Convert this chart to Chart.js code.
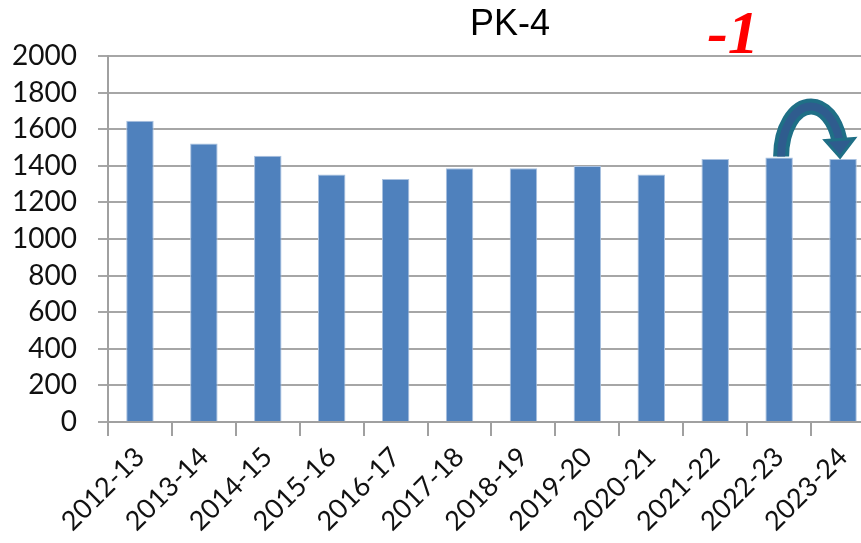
<!DOCTYPE html>
<html>
<head>
<meta charset="utf-8">
<script src="https://cdn.jsdelivr.net/npm/chart.js@4.4.1/dist/chart.umd.min.js"></script>
<style>
  html, body { margin: 0; padding: 0; background: #fff; overflow: hidden; }
  #wrap { width: 875px; height: 543px; position: relative; }
</style>
</head>
<body>
<div id="wrap"><canvas id="pkChart"></canvas></div>
<script>
// ---- data ----
const years = ['2012-13', '2013-14', '2014-15', '2015-16', '2016-17', '2017-18',
               '2018-19', '2019-20', '2020-21', '2021-22', '2022-23', '2023-24'];
const counts = [1646, 1522, 1455, 1353, 1328, 1386, 1386, 1399, 1353, 1437, 1446, 1437];
const yTicks = [0, 200, 400, 600, 800, 1000, 1200, 1400, 1600, 1800, 2000];
const chartTitle = 'PK-4';
const changeLabel = '-1';

// title, change label and the curved arrow between the last two bars
const annotate = {
    id: 'annotate',
    afterDraw(chart) {
        const c = chart.ctx;
        const x = chart.scales.x, y = chart.scales.y;

        c.save();
        c.fillStyle = '#000';
        c.font = '36px "Liberation Sans", Arial, sans-serif';
        c.textAlign = 'center';
        c.textBaseline = 'alphabetic';
        c.fillText(chartTitle, 510, 35);

        c.fillStyle = '#ff0000';
        c.font = 'italic bold 62px "Liberation Serif", "Times New Roman", serif';
        c.fillText(changeLabel, 733, 53);

        // arrow from bar 11 over to bar 12
        const i = counts.length - 2;
        const x1 = x.getPixelForValue(i), x2 = x.getPixelForValue(i + 1);
        const base = y.getPixelForValue(counts[i]) - 1;
        const cx = (x1 + x2) / 2, rx = (x2 - x1) / 2 - 2, ry = 50;
        const endA = Math.PI * 1.89;
        const drawArc = () => {
            c.beginPath();
            c.ellipse(cx, base, rx, ry, 0, Math.PI, endA);
            c.stroke();
        };
        c.lineCap = 'butt';
        c.strokeStyle = '#1f6f86';
        c.lineWidth = 16;
        drawArc();
        c.strokeStyle = '#2f5c8e';
        c.lineWidth = 8;
        drawArc();

        // arrow head
        const ex = cx + rx * Math.cos(endA);
        const ey = base + ry * Math.sin(endA);
        const tipX = x2 - 3, tipY = y.getPixelForValue(counts[i + 1]) - 2;
        c.beginPath();
        c.moveTo(ex - 14, ey + 1);
        c.lineTo(ex + 15, ey - 1);
        c.lineTo(tipX, tipY);
        c.closePath();
        c.fillStyle = '#2f5c8e';
        c.fill();
        c.strokeStyle = '#1f6f86';
        c.lineWidth = 3;
        c.stroke();
        c.restore();
    }
};

new Chart(document.getElementById('pkChart'), {
    type: 'bar',
    data: {
        labels: years,
        datasets: [{
            data: counts,
            backgroundColor: '#4f81bd',
            borderColor: '#a9c1e0',
            borderWidth: 1,
            categoryPercentage: 1,
            barPercentage: 0.43
        }]
    },
    options: {
        responsive: true,
        maintainAspectRatio: false,
        animation: false,
        layout: { padding: { top: 56, right: 0, left: 0, bottom: 0 } },
        plugins: {
            legend: { display: false },
            tooltip: { enabled: false }
        },
        scales: {
            x: {
                grid: {
                    display: true,
                    drawOnChartArea: false,
                    color: '#a0a0a0',
                    lineWidth: 2,
                    tickLength: 14
                },
                border: { color: '#a0a0a0', width: 2 },
                ticks: {
                    color: '#111',
                    font: { family: 'Lato, "Open Sans", sans-serif', size: 27 },
                    minRotation: 45,
                    maxRotation: 45,
                    autoSkip: false,
                    padding: 5
                },
                afterFit(s) { s.height = 121; }
            },
            y: {
                min: 0,
                max: 2000,
                afterBuildTicks(s) { s.ticks = yTicks.map(v => ({ value: v })); },
                grid: {
                    color: '#a6a6a6',
                    lineWidth: 2,
                    tickLength: 10
                },
                border: { color: '#a0a0a0', width: 2 },
                ticks: {
                    color: '#111',
                    font: { family: 'Lato, "Open Sans", sans-serif', size: 28 },
                    padding: 21,
                    autoSkip: false,
                    callback: v => String(v)
                },
                afterFit(s) { s.width = 108; }
            }
        }
    },
    plugins: [annotate]
});
</script>
</body>
</html>
